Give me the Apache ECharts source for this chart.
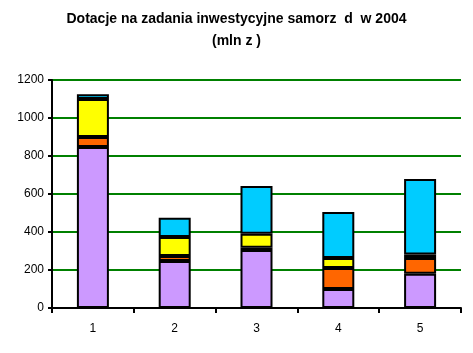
<!DOCTYPE html>
<html>
<head>
<meta charset="utf-8">
<script src="https://cdn.jsdelivr.net/npm/echarts@6/dist/echarts.min.js"></script>
<style>
  html, body { margin: 0; padding: 0; background: #fff; }
  #chart { width: 473px; height: 353px; }
</style>
</head>
<body>
<div id="chart"></div>
<script>
var categories = ["1", "2", "3", "4", "5"];
var purpleVals = [847, 247, 305, 100, 180];
var orangeVals = [53, 27, 12, 110, 83];
var yellowVals = [200, 100, 74, 53, 19];
var blueVals = [25, 101, 251, 242, 397];

var colors = ["#CC99FF", "#FF6600", "#FFFF00", "#00CCFF"];
var seriesData = [purpleVals, orangeVals, yellowVals, blueVals];

var series = [];
for (var i = 0; i < seriesData.length; i++) {
    series.push({
        type: "bar",
        stack: "total",
        barWidth: 32,
        data: seriesData[i],
        itemStyle: {
            color: colors[i],
            borderColor: "#000",
            borderWidth: 2
        }
    });
}

var myChart = echarts.init(document.getElementById("chart"));
var option = {
    animation: false,
    title: {
        text: "Dotacje na zadania inwestycyjne samorz  d  w 2004\n(mln z )",
        left: "center",
        top: 3,
        textStyle: {
            fontFamily: "Liberation Sans",
            fontWeight: "bold",
            fontSize: 14,
            lineHeight: 22,
            color: "#000"
        }
    },
    grid: {
        left: 52,
        right: 12,
        top: 80,
        bottom: 45
    },
    xAxis: {
        type: "category",
        data: categories,
        axisLine: { lineStyle: { color: "#000", width: 2 } },
        axisTick: { show: true, length: 5, lineStyle: { color: "#000", width: 2 } },
        axisLabel: { color: "#000", fontFamily: "Liberation Sans", fontSize: 12, margin: 15 }
    },
    yAxis: {
        type: "value",
        min: 0,
        max: 1200,
        interval: 200,
        axisLine: { show: true, lineStyle: { color: "#000", width: 2 } },
        axisTick: { show: true, length: 4, lineStyle: { color: "#000", width: 2 } },
        axisLabel: {
            color: "#000",
            fontFamily: "Liberation Sans",
            fontSize: 12,
            margin: 8,
            formatter: function (v) { return String(v); }
        },
        splitLine: { lineStyle: { color: "#008000", width: 2 } }
    },
    series: series
};
myChart.setOption(option);
</script>
</body>
</html>
